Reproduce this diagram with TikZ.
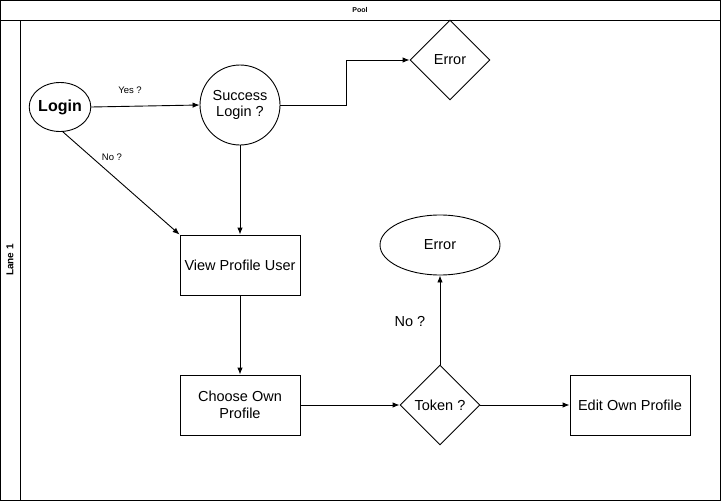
\documentclass[tikz,border=0pt]{standalone}
\usepackage{fontspec}
\setmainfont{Liberation Sans}
\usetikzlibrary{shapes.geometric,arrows.meta}
\begin{document}
\begin{tikzpicture}[x=1pt,y=-1pt,
  lw/.style={line width=0.9pt},
  txt/.style={font=\fontsize{14.5}{16.5}\selectfont,align=center},
  box/.style={draw,lw,minimum width=120pt,minimum height=60pt,inner sep=0pt,txt},
  dia/.style={draw,lw,diamond,minimum width=80pt,minimum height=80pt,inner sep=0pt,aspect=1,txt},
  arr/.style={draw,lw,-{Latex[length=7pt,width=5.5pt]}},
  small/.style={font=\fontsize{9.5}{11}\selectfont,inner sep=0pt}]
\useasboundingbox (0,0) rectangle (721,501);
% pool and lane
\draw[lw] (0.5,0.5) rectangle (720.5,500.5);
\draw[lw] (0.5,20) -- (720.5,20);
\draw[lw] (20,20) -- (20,500.5);
\node[font=\bfseries\fontsize{7}{8}\selectfont] (pool) at (360,10) {Pool};
\node[font=\bfseries\fontsize{10}{12}\selectfont,rotate=90] (lane) at (10,260) {Lane 1};
% nodes
\node[draw,lw,ellipse,minimum width=61pt,minimum height=49pt,inner sep=0pt,font=\bfseries\fontsize{16}{18}\selectfont] (login) at (60,107) {Login};
\node[draw,lw,circle,minimum size=80pt,inner sep=0pt,txt] (succ) at (240,105) {Success\\Login ?};
\node[dia] (err1) at (450,60) {Error};
\node[box] (view) at (240,265) {View Profile User};
\node[box] (choose) at (240,405) {Choose Own\\Profile};
\node[dia] (token) at (440,405) {Token ?};
\node[draw,lw,ellipse,minimum width=120pt,minimum height=60pt,inner sep=0pt,txt] (err2) at (440,245) {Error};
\node[box] (edit) at (630,405) {Edit Own Profile};
% labels
\node[small] (yes) at (130,90) {Yes ?};
\node[small] (no1) at (112,157) {No ?};
\node[txt,inner sep=0pt] (no2) at (410,322) {No ?};
% connectors
\draw[arr] (login.east) -- (succ.west);
\draw[arr] (succ.east) -- (346,105) -- (346,60) -- (err1.west);
\draw[arr] (login.south) ++(3,0) coordinate (ls) -- (view.north west);
\draw[arr] (succ.south) -- (view.north);
\draw[arr] (view.south) -- (choose.north);
\draw[arr] (choose.east) -- (token.west);
\draw[arr] (token.north) -- (err2.south);
\draw[arr] (token.east) -- (edit.west);
\end{tikzpicture}
\end{document}
